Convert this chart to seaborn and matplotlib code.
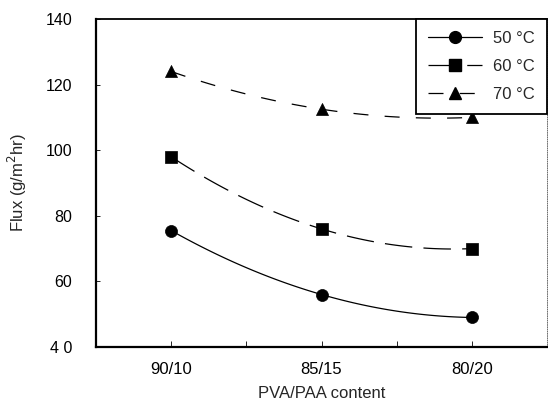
import matplotlib
matplotlib.use("Agg")
import matplotlib.pyplot as plt
from matplotlib.lines import Line2D
from matplotlib.ticker import FixedLocator
import seaborn as sns
import pandas as pd

# ---- data ----
categories = ["90/10", "85/15", "80/20"]
flux_50 = [75.5, 56.0, 49.0]
flux_60 = [98.0, 76.0, 70.0]
flux_70 = [124.0, 112.5, 110.0]
series_labels = ["50 \u00b0C", "60 \u00b0C", "70 \u00b0C"]
y_ticks = [40, 60, 80, 100, 120, 140]
y_ticklabels = ["4 0", "60", "80", "100", "120", "140"]

sns.set_style("ticks")
plt.rcParams["font.family"] = ["Liberation Sans", "DejaVu Sans"]

fig = plt.figure(figsize=(5.48, 4.03), dpi=100)
ax = fig.add_axes([96 / 548, 1 - 347 / 403, (547 - 96) / 548, (347 - 19) / 403])

xpos = list(range(len(categories)))
styles = [
    dict(marker="o", ls="-"),
    dict(marker="s", ls=(0, (22, 9))),
    dict(marker="^", ls=(0, (12, 13))),
]
handles = []
for vals, lab, st in zip([flux_50, flux_60, flux_70], series_labels, styles):
    df = pd.DataFrame({"x": xpos, "y": vals})
    sns.regplot(data=df, x="x", y="y", order=2, ci=None, scatter=False,
                ax=ax, color="black",
                line_kws=dict(lw=0.9, linestyle=st["ls"]))
    sns.scatterplot(data=df, x="x", y="y", ax=ax, marker=st["marker"],
                    s=75, color="black", edgecolor="black", linewidth=0.5,
                    zorder=5, legend=False)
    handles.append(Line2D([], [], color="black", lw=0.9, linestyle=st["ls"],
                          marker=st["marker"], markersize=8.5, label=lab))

ax.set_xlim(-0.5, 2.5)
ax.set_ylim(40, 140)
ax.set_xticks(xpos)
ax.set_xticklabels(categories, fontsize=12)
ax.xaxis.set_minor_locator(FixedLocator([0.5, 1.5]))
ax.set_yticks(y_ticks)
ax.set_yticklabels(y_ticklabels, fontsize=11.5)
ax.tick_params(axis="x", which="both", direction="in", length=4, width=0.6,
               pad=11, colors="black")
ax.tick_params(axis="y", direction="in", length=3, width=0.6, pad=17,
               colors="black")

ax.set_xlabel("PVA/PAA content", fontsize=12, labelpad=6)
ax.set_ylabel("Flux (g/m$^2$hr)", fontsize=12, labelpad=12)

for side in ["left", "bottom"]:
    ax.spines[side].set_linewidth(1.6)
    ax.spines[side].set_color("black")
ax.spines["top"].set_visible(True)
ax.spines["top"].set_linewidth(1.3)
ax.spines["top"].set_color("black")
ax.spines["right"].set_visible(True)
ax.spines["right"].set_linewidth(0.6)
ax.spines["right"].set_linestyle(":")
ax.spines["right"].set_color("#555555")

leg = ax.legend(handles=handles, loc="upper right", bbox_to_anchor=(1.0, 1.0),
                borderaxespad=0.0, fontsize=12, handlelength=3.2,
                handletextpad=0.7, borderpad=0.72, labelspacing=0.77,
                frameon=True, fancybox=False, framealpha=1.0)
leg.get_frame().set_edgecolor("black")
leg.get_frame().set_linewidth(1.3)

fig.savefig("out.png", dpi=100)
